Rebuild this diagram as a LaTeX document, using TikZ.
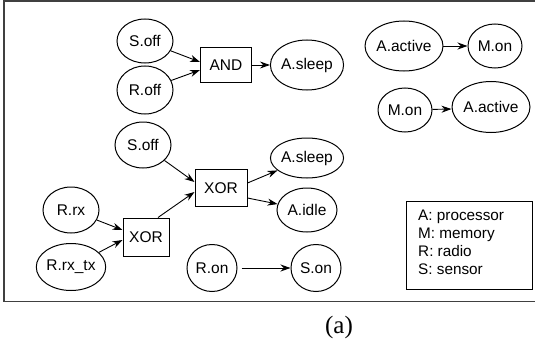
\documentclass[tikz,border=0pt]{standalone}
\usepackage{fontspec}
\setmainfont{Liberation Serif}
\newfontfamily\diagfont{Liberation Sans}
\usetikzlibrary{shapes.geometric,arrows.meta}
\begin{document}
\begin{tikzpicture}[x=1pt,y=-1pt,
  st/.style={draw,ellipse,inner sep=0pt,line width=1pt,font=\diagfont\fontsize{15.5}{18}\selectfont},
  gate/.style={draw,rectangle,inner sep=0pt,line width=1pt,font=\diagfont\fontsize{15.5}{18}\selectfont},
  arr/.style={-{Stealth[length=10pt,width=7pt]},line width=0.9pt}]
\useasboundingbox (0,0) rectangle (535,345);
\draw[line width=1.3pt,black!75] (540,1) -- (4,1) -- (4,301.5) -- (540,301.5);
% top group
\node[st,minimum width=56pt,minimum height=44pt] (soff1) at (145,41) {S.off};
\node[st,minimum width=56pt,minimum height=48pt] (roff) at (145,90) {R.off};
\node[gate,minimum width=51pt,minimum height=35pt] (and) at (226,65) {AND};
\node[st,minimum width=60pt,minimum height=50pt] (asleep1) at (307,65) {A.sleep};
% right
\node[st,minimum width=62pt,minimum height=50pt] (aact1) at (404,46) {A.active};
\node[st,minimum width=54pt,minimum height=44pt] (mon1) at (495,46) {M.on};
\node[st,minimum width=54pt,minimum height=44pt] (mon2) at (405,110) {M.on};
\node[st,minimum width=64pt,minimum height=51pt] (aact2) at (491,107) {A.active};
% middle group
\node[st,minimum width=56pt,minimum height=46pt] (soff2) at (143,145) {S.off};
\node[gate,minimum width=52pt,minimum height=37pt] (xor1) at (221,188) {XOR};
\node[st,minimum width=60pt,minimum height=40pt] (asleep2) at (307,158) {A.sleep};
\node[st,minimum width=60pt,minimum height=44pt] (aidle) at (307,210) {A.idle};
\node[st,minimum width=56pt,minimum height=46pt] (rrx) at (71,210) {R.rx};
\node[st,minimum width=58pt,minimum height=47pt] (rrxtx) at (71,267) {R.rx\_tx};
\node[gate,minimum width=46pt,minimum height=38pt] (xor2) at (146,237) {XOR};
\node[st,minimum width=50pt,minimum height=47pt] (ron) at (212,268) {R.on};
\node[st,minimum width=50pt,minimum height=47pt] (son) at (316,268) {S.on};
% legend
\node[draw,line width=1pt,minimum width=126pt,minimum height=88pt,inner sep=0pt] (leg) at (469,245) {};
\node[anchor=west,align=left,inner sep=0pt,font=\diagfont\fontsize{15.3}{18}\selectfont] (legtxt) at (418,242) {A: processor\\M: memory\\R: radio\\S: sensor};
\node[font=\fontsize{25}{29}\selectfont] (cap) at (339,327) {(a)};
% connectors
\draw[arr] (soff1) -- ([yshift=3pt]and.west);
\draw[arr] (roff) -- ([yshift=-5pt]and.west);
\draw[arr] (and) -- (asleep1);
\draw[arr] (aact1) -- (mon1);
\draw[arr] (mon2) -- ([yshift=-2pt]aact2.west);
\draw[arr] (soff2) -- ([yshift=6pt]xor1.west);
\draw[arr] ([xshift=12pt]xor2.north) -- ([yshift=-4pt]xor1.west);
\draw[arr] ([yshift=5pt]xor1.east) -- (asleep2);
\draw[arr] ([yshift=-10pt]xor1.east) -- (aidle);
\draw[arr] (rrx) -- ([yshift=7pt]xor2.west);
\draw[arr] (rrxtx) -- ([yshift=-3pt]xor2.west);
\draw[arr] ([xshift=4pt]ron.east) -- (son);
\end{tikzpicture}
\end{document}
